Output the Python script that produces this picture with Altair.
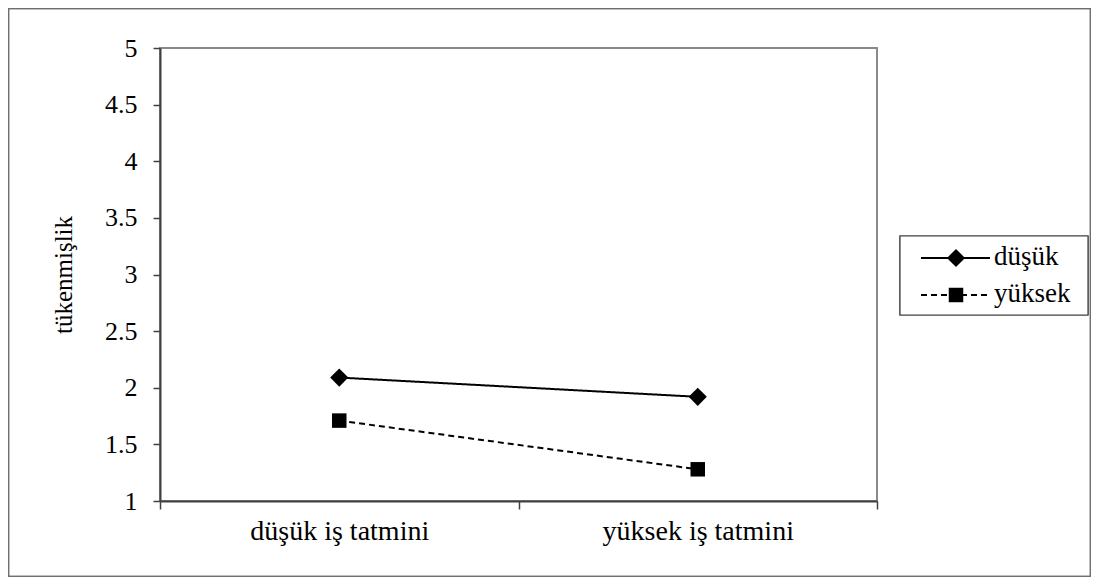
import altair as alt
import pandas as pd

categories = ["düşük iş tatmini", "yüksek iş tatmini"]
series = ["düşük", "yüksek"]
values_dusuk = [2.09, 1.92]
values_yuksek = [1.71, 1.28]
y_ticks = [1, 1.5, 2, 2.5, 3, 3.5, 4, 4.5, 5]

rows = []
for s, vals in zip(series, [values_dusuk, values_yuksek]):
    for c, v in zip(categories, vals):
        rows.append({"kategori": c, "seri": s, "deger": v})
df = pd.DataFrame(rows)
leg_df = pd.DataFrame({"seri": series})

FONT = "Times New Roman, Liberation Serif, serif"
AXC = "#404040"
W, H = 717, 453

x = alt.X(
    "kategori:N", sort=categories, bandPosition=0.5,
    scale=alt.Scale(type="band", domain=categories, paddingInner=0, paddingOuter=0),
    axis=alt.Axis(title=None, labelAngle=0, tickBand="extent", tickSize=8,
                  tickColor=AXC, tickWidth=1.5, domainColor=AXC, domainWidth=2,
                  labelFont=FONT, labelFontSize=28, labelColor="black",
                  labelPadding=8, labelLimit=600, grid=False),
)
y = alt.Y(
    "deger:Q",
    scale=alt.Scale(domain=[1, 5], nice=False, zero=False),
    axis=alt.Axis(values=y_ticks, format="~g", title="tükenmişlik",
                  titleFont=FONT, titleFontSize=25, titleFontWeight="normal",
                  titleColor="black", titlePadding=28,
                  labelFont=FONT, labelFontSize=26, labelColor="black",
                  labelPadding=16, tickSize=7, tickColor=AXC, tickWidth=1.5,
                  domainColor=AXC, domainWidth=2, grid=False),
)

dash = alt.StrokeDash("seri:N", scale=alt.Scale(domain=series, range=[[1, 0], [6, 4]]), legend=None)
shape = alt.Shape("seri:N", scale=alt.Scale(domain=series, range=["diamond", "square"]), legend=None)
msize = alt.Size("seri:N", scale=alt.Scale(domain=series, range=[330, 210]), legend=None)

lines = alt.Chart(df).mark_line(color="black", strokeWidth=2).encode(
    x=x, y=y, strokeDash=dash, detail="seri:N")
points = alt.Chart(df).mark_point(filled=True, color="black", opacity=1).encode(
    x=x, y=y, shape=shape, size=msize)
main = alt.layer(lines, points)

ly = alt.Y("seri:N", scale=alt.Scale(type="point", domain=series, range=[210, 247], padding=0), axis=None)

frame = alt.Chart(leg_df).mark_rect(fill="transparent", stroke="#6f6f6f", strokeWidth=1.5).encode(
    x=alt.value(-151.5), x2=alt.value(930.5), y=alt.value(-39.5), y2=alt.value(528.5))
box = alt.Chart(leg_df).mark_rect(fill="white", stroke=AXC, strokeWidth=1.2).encode(
    x=alt.value(740), x2=alt.value(928), y=alt.value(188), y2=alt.value(267))
leg_rule = alt.Chart(leg_df).mark_rule(color="black", strokeWidth=2).encode(
    x=alt.value(761), x2=alt.value(830), y=ly, strokeDash=dash)
leg_pt = alt.Chart(leg_df).mark_point(filled=True, color="black", opacity=1).encode(
    x=alt.value(796), y=ly, shape=shape, size=msize)
leg_txt = alt.Chart(leg_df).mark_text(align="left", baseline="middle", font=FONT,
                                      fontSize=27, color="black", dy=-1).encode(
    x=alt.value(834), y=ly, text="seri:N")
legend = alt.layer(frame, box, leg_rule, leg_pt, leg_txt)

chart = alt.layer(main, legend).resolve_scale(x="independent", y="independent").properties(
    width=W, height=H,
    padding={"left": 152, "top": 40, "right": 214, "bottom": 76},
    autosize=alt.AutoSizeParams(type="none"),
    background="white",
).configure_view(stroke="#8a8a8a", strokeWidth=2)

chart.save("out.html", embed_options={"renderer": "svg", "actions": False})
